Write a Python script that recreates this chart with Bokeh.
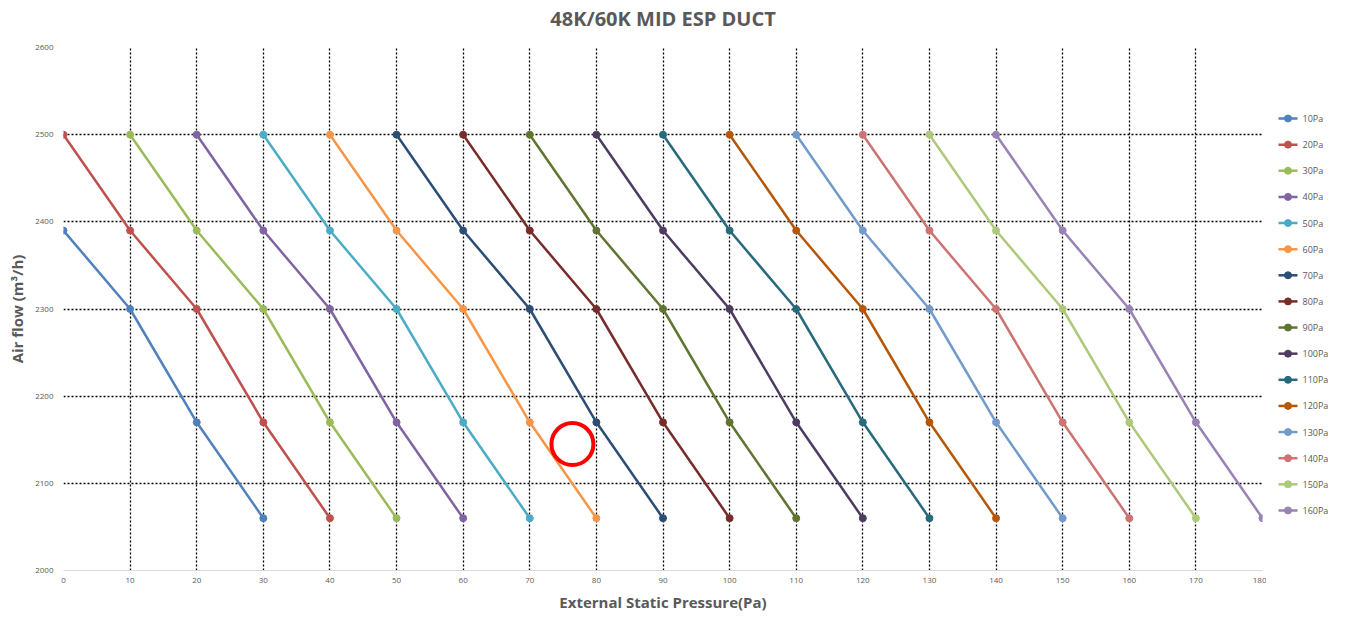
from bokeh.plotting import figure
from bokeh.models import Range1d, FixedTicker
from bokeh.layouts import row, column
from bokeh.core.properties import value
from bokeh.embed import file_html
from bokeh.resources import INLINE

# ---- data ----
title_text = "48K/60K MID ESP DUCT"
series_names = ["10Pa", "20Pa", "30Pa", "40Pa", "50Pa", "60Pa", "70Pa", "80Pa",
                "90Pa", "100Pa", "110Pa", "120Pa", "130Pa", "140Pa", "150Pa", "160Pa"]
series_x = [
    [0, 10, 20, 30],
    [0, 10, 20, 30, 40],
    [10, 20, 30, 40, 50],
    [20, 30, 40, 50, 60],
    [30, 40, 50, 60, 70],
    [40, 50, 60, 70, 80],
    [50, 60, 70, 80, 90],
    [60, 70, 80, 90, 100],
    [70, 80, 90, 100, 110],
    [80, 90, 100, 110, 120],
    [90, 100, 110, 120, 130],
    [100, 110, 120, 130, 140],
    [110, 120, 130, 140, 150],
    [120, 130, 140, 150, 160],
    [130, 140, 150, 160, 170],
    [140, 150, 160, 170, 180],
]
series_y = [
    [2390, 2300, 2170, 2060],
    [2500, 2390, 2300, 2170, 2060],
    [2500, 2390, 2300, 2170, 2060],
    [2500, 2390, 2300, 2170, 2060],
    [2500, 2390, 2300, 2170, 2060],
    [2500, 2390, 2300, 2170, 2060],
    [2500, 2390, 2300, 2170, 2060],
    [2500, 2390, 2300, 2170, 2060],
    [2500, 2390, 2300, 2170, 2060],
    [2500, 2390, 2300, 2170, 2060],
    [2500, 2390, 2300, 2170, 2060],
    [2500, 2390, 2300, 2170, 2060],
    [2500, 2390, 2300, 2170, 2060],
    [2500, 2390, 2300, 2170, 2060],
    [2500, 2390, 2300, 2170, 2060],
    [2500, 2390, 2300, 2170, 2060],
]
series_colors = ["#4F81BD", "#C0504D", "#9BBB59", "#8064A2", "#4BACC6", "#F79646",
                 "#2C4D75", "#772C2A", "#5F7530", "#4D3B62", "#276A7C", "#B65708",
                 "#729ACA", "#CD7371", "#AFC97A", "#9983B5"]
x_ticks = [0, 10, 20, 30, 40, 50, 60, 70, 80, 90, 100, 110, 120, 130, 140, 150, 160, 170, 180]
y_ticks = [2000, 2100, 2200, 2300, 2400, 2500, 2600]
highlight_x = [76.4]
highlight_y = [2145]

FONT = "Open Sans"
TXT = "#595959"
TITLE_H = 36
H = 614 - TITLE_H
MAIN_W = 1266
TOTAL_W = 1342
TOP = 47 - TITLE_H
BOTTOM = 44
FRAME_H = H - TOP - BOTTOM

# ---- title strip (frame aligned with the main plot frame) ----
t = figure(width=MAIN_W, height=TITLE_H, x_range=Range1d(0, 1), y_range=Range1d(TITLE_H, 0),
           output_backend="svg", toolbar_location=None, title=None,
           x_axis_type=None, y_axis_type=None,
           min_border_left=63, min_border_right=4, min_border_top=0, min_border_bottom=0)
t.outline_line_color = None
t.grid.visible = False
t.text(x=[0.5], y=[18], text=[title_text], text_font=value(FONT), text_font_size="20px",
       text_font_style="bold", text_color=TXT, text_align="center", text_baseline="middle")

# ---- main plot ----
p = figure(width=MAIN_W, height=H,
           x_range=Range1d(0, 180), y_range=Range1d(2000, 2600),
           output_backend="svg", toolbar_location=None, title=None,
           min_border_left=63, min_border_top=TOP, min_border_bottom=BOTTOM, min_border_right=4)
p.outline_line_color = None
p.background_fill_color = "white"

p.xaxis.ticker = FixedTicker(ticks=x_ticks)
p.yaxis.ticker = FixedTicker(ticks=y_ticks)
for ax in (p.xaxis[0], p.yaxis[0]):
    ax.major_tick_line_color = None
    ax.minor_tick_line_color = None
    ax.major_label_text_font = FONT
    ax.major_label_text_font_size = "8px"
    ax.major_label_text_color = TXT
    ax.axis_label_text_font = FONT
    ax.axis_label_text_font_size = "15px"
    ax.axis_label_text_font_style = "bold"
    ax.axis_label_text_color = TXT
p.xaxis.axis_line_color = "#D9D9D9"
p.yaxis.axis_line_color = None
p.xaxis.axis_label = "External Static Pressure(Pa)"
p.yaxis.axis_label = "Air flow (m³/h)"
p.xaxis.major_label_standoff = 1
p.yaxis.major_label_standoff = 4
p.xaxis.axis_label_standoff = 6
p.yaxis.axis_label_standoff = 5

for g in (p.xgrid[0], p.ygrid[0]):
    g.grid_line_color = "black"
    g.grid_line_dash = "2 2"
    g.grid_line_width = 1.3

for xs, ys, c in zip(series_x, series_y, series_colors):
    p.line(xs, ys, line_color=c, line_width=2.5)
    p.scatter(xs, ys, size=7, fill_color=c, line_color=c)

p.scatter(highlight_x, highlight_y, size=42, fill_color=None, line_color="#FF0000", line_width=4)

# ---- legend panel (separate narrow figure; its frame aligns with the main frame) ----
LW = TOTAL_W - MAIN_W
leg = figure(width=LW, height=H, x_range=Range1d(0, LW), y_range=Range1d(FRAME_H, 0),
             output_backend="svg", toolbar_location=None, title=None,
             x_axis_type=None, y_axis_type=None,
             min_border_left=0, min_border_right=0, min_border_top=TOP, min_border_bottom=BOTTOM)
leg.outline_line_color = None
leg.grid.visible = False
leg.background_fill_color = "white"
leg.border_fill_color = "white"

n = len(series_names)
entry_y = [71 + 26.13 * i for i in range(n)]   # px below frame top
leg.segment(x0=[12] * n, y0=entry_y, x1=[31] * n, y1=entry_y,
            line_color=series_colors, line_width=2.5)
leg.scatter([21.5] * n, entry_y, size=7, fill_color=series_colors, line_color=series_colors)
leg.text(x=[36] * n, y=entry_y, text=series_names, text_font=value(FONT),
         text_font_size="9px", text_color=TXT, text_baseline="middle", text_align="left")

layout = column(t, row(p, leg, spacing=0), spacing=0)
open("out.html", "w").write(file_html(layout, INLINE))
